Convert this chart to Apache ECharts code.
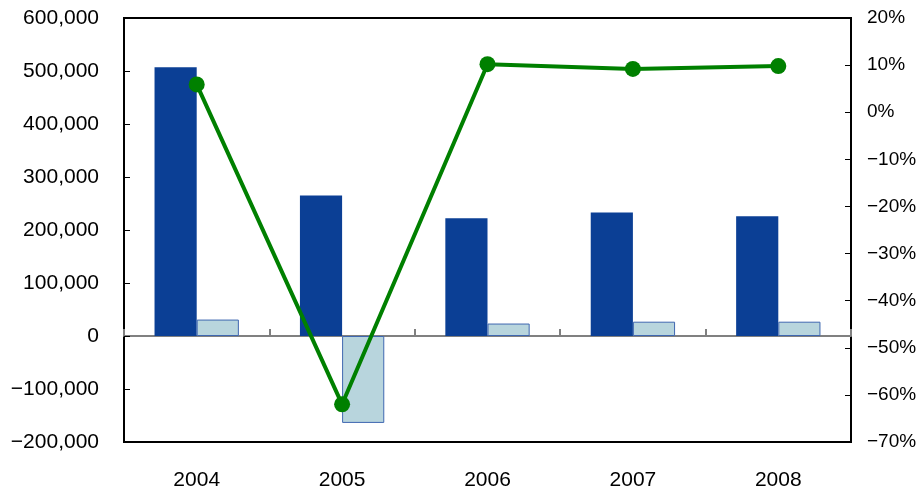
<!DOCTYPE html>
<html>
<head>
<meta charset="utf-8">
<script src="https://cdn.jsdelivr.net/npm/echarts@6/dist/echarts.min.js"></script>
<style>
  html, body { margin: 0; padding: 0; background: #fff; }
  #chart { width: 917px; height: 487px; }
</style>
</head>
<body>
<div id="chart"></div>
<script>
// Yearly amounts (left axis) and growth rate in % (right axis)
const years = ['2004', '2005', '2006', '2007', '2008'];
const amountValues = [507000, 265000, 222000, 233000, 226000];
const changeValues = [31000, -164000, 23500, 27000, 27000];
const rateValues = [5.9, -62.0, 10.2, 9.2, 9.8];

const leftMin = -200000, leftMax = 600000, leftStep = 100000;
const rightMin = -70, rightMax = 20, rightStep = 10;

const FONT = '"Liberation Sans", Arial, sans-serif';

function withMinus(s) { return s.replace('-', '\u2212'); }
function fmtThousands(v) {
  return withMinus(Math.round(v).toString().replace(/\B(?=(\d{3})+(?!\d))/g, ','));
}

const chart = echarts.init(document.getElementById('chart'), null, { renderer: 'canvas' });

chart.setOption({
  animation: false,
  backgroundColor: '#ffffff',
  grid: {
    left: 124, right: 66, top: 18, bottom: 45,
    containLabel: false, outerBoundsMode: 'none',
    show: true, borderColor: '#000', borderWidth: 2, backgroundColor: 'transparent'
  },
  xAxis: [
    {
      // year labels along the bottom edge
      type: 'category',
      data: years,
      position: 'bottom',
      axisLine: { show: false, onZero: false },
      axisTick: { show: false },
      axisLabel: { margin: 28, color: '#000', fontSize: 21, fontFamily: FONT },
      splitLine: { show: false }
    },
    {
      // category baseline drawn at zero
      type: 'category',
      data: years,
      position: 'bottom',
      axisLine: { show: true, onZero: true, onZeroAxisIndex: 0, lineStyle: { color: '#808080', width: 2 } },
      axisTick: { show: true, inside: true, length: 7, lineStyle: { color: '#808080', width: 2 } },
      axisLabel: { show: false },
      splitLine: { show: false }
    }
  ],
  yAxis: [
    {
      type: 'value',
      min: leftMin, max: leftMax, interval: leftStep,
      axisLine: { show: true, lineStyle: { color: '#000', width: 2 } },
      axisTick: { show: true, inside: true, length: 6, lineStyle: { color: '#000', width: 1 } },
      axisLabel: { margin: 25, color: '#000', fontSize: 21, fontFamily: FONT, formatter: fmtThousands },
      splitLine: { show: false }
    },
    {
      type: 'value',
      position: 'right',
      min: rightMin, max: rightMax, interval: rightStep,
      axisLine: { show: true, lineStyle: { color: '#000', width: 2 } },
      axisTick: { show: true, inside: true, length: 6, lineStyle: { color: '#000', width: 1 } },
      axisLabel: { margin: 16, color: '#000', fontSize: 19, fontFamily: FONT,
        formatter: v => withMinus(String(v)) + '%' },
      splitLine: { show: false }
    }
  ],
  series: [
    {
      type: 'bar',
      data: amountValues,
      xAxisIndex: 0,
      yAxisIndex: 0,
      barGap: '0%',
      barCategoryGap: '42%',
      itemStyle: { color: '#0b3f95' },
      z: 2
    },
    {
      type: 'bar',
      data: changeValues,
      xAxisIndex: 0,
      yAxisIndex: 0,
      barGap: '0%',
      barCategoryGap: '42%',
      itemStyle: { color: '#b8d5dd', borderColor: '#3f67b0', borderWidth: 1 },
      z: 2
    },
    {
      type: 'line',
      data: rateValues,
      xAxisIndex: 0,
      yAxisIndex: 1,
      symbol: 'circle',
      symbolSize: 16,
      lineStyle: { color: '#008000', width: 4 },
      itemStyle: { color: '#008000' },
      z: 5
    }
  ]
});
</script>
</body>
</html>
